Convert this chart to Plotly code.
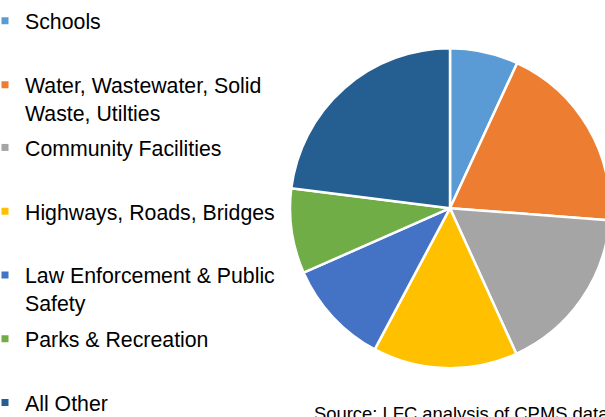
import plotly.graph_objects as go

categories = ["Schools", "Water, Wastewater, Solid<br>Waste, Utilties", "Community Facilities",
              "Highways, Roads, Bridges", "Law Enforcement & Public<br>Safety",
              "Parks & Recreation", "All Other"]
values = [6.9, 19.3, 17.0, 14.6, 10.6, 8.6, 23.0]
colors = ["#5B9BD5", "#ED7D31", "#A5A5A5", "#FFC000", "#4472C4", "#70AD47", "#255E91"]
legend_baseline_px = [21, 86, 150, 215, 280, 345, 410]

# canvas slightly larger than the 605x417 window so the pie can run off the right edge
W, H = 613, 430
FONT = "Arial, Liberation Sans, sans-serif"
LEG_SIZE = 21.3

fig = go.Figure()
fig.add_trace(go.Pie(
    labels=categories, values=values, sort=False, direction="clockwise", rotation=0,
    marker=dict(colors=colors, line=dict(color="white", width=2.5)),
    textinfo="none", hoverinfo="label+percent", showlegend=False,
    domain=dict(x=[(450 - 163) / W, 1.0], y=[1 - 367 / H, 1 - 41 / H]),
))

layout_legends = {}
for i, (name, col, base) in enumerate(zip(categories, colors, legend_baseline_px)):
    key = "legend" if i == 0 else f"legend{i+1}"
    fig.add_trace(go.Scatter(
        x=[None], y=[None], mode="markers", name=name,
        marker=dict(symbol="square", size=7, color=col),
        legend=key, showlegend=True, hoverinfo="skip",
    ))
    top_px = base - 0.3 * 1.3 * LEG_SIZE - (5 + (1.3 * LEG_SIZE + 3) / 2)
    layout_legends[key] = dict(
        x=0, xanchor="left", y=1 - top_px / H, yanchor="top",
        valign="top", indentation=-15, bgcolor="rgba(0,0,0,0)", borderwidth=0,
        font=dict(family=FONT, size=LEG_SIZE, color="#000000"),
        itemclick=False, itemdoubleclick=False,
    )

fig.update_layout(
    width=W, height=H, margin=dict(l=0, r=0, t=0, b=0),
    paper_bgcolor="white", plot_bgcolor="white",
    xaxis=dict(visible=False), yaxis=dict(visible=False),
    font=dict(family=FONT, color="#000000"),
    **layout_legends,
)

fig.add_annotation(
    text="Source: LFC analysis of CPMS data", xref="paper", yref="paper",
    x=312 / W, y=1 - 413 / H, xanchor="left", yanchor="middle", showarrow=False,
    font=dict(family=FONT, size=18.4, color="#000000"),
)

fig.write_html(
    "out.html",
    config={"displayModeBar": False},
    post_script="document.body.style.margin='0';document.body.style.overflow='hidden';",
)
